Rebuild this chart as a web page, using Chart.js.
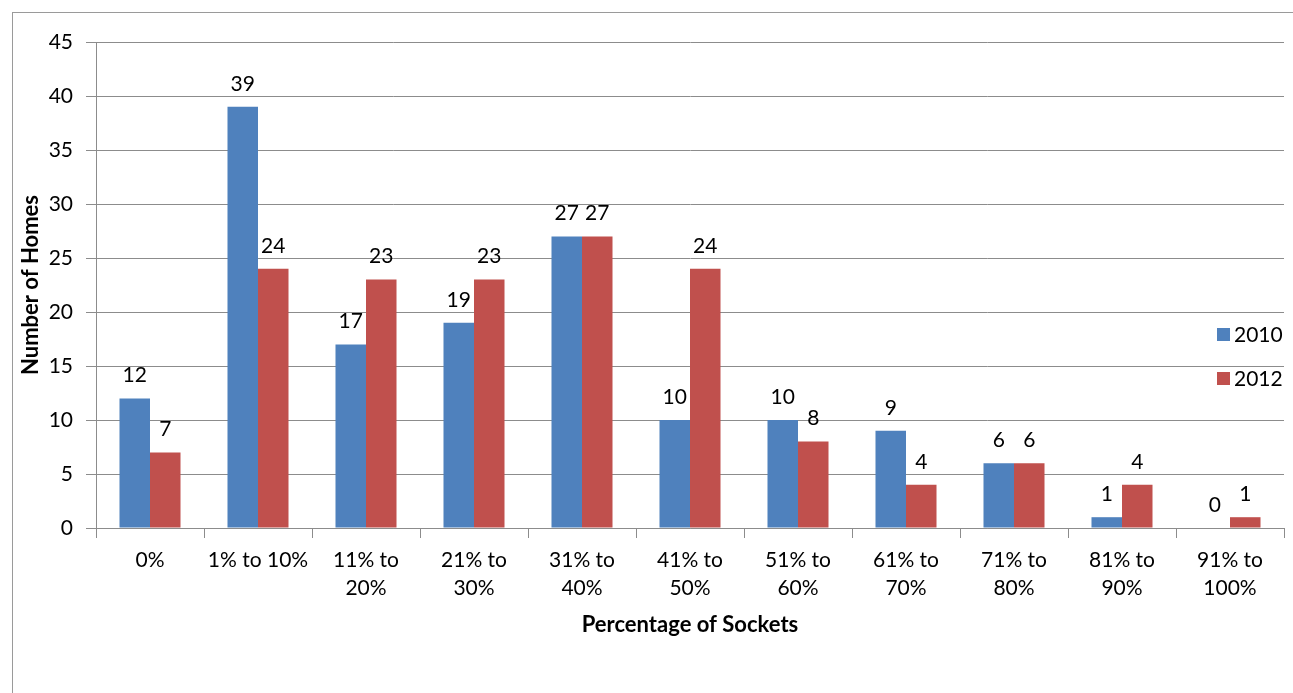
<!DOCTYPE html>
<html>
<head>
<meta charset="utf-8">
<title>Number of Homes by Percentage of Sockets</title>
<script src="https://cdn.jsdelivr.net/npm/chart.js@4.4.1/dist/chart.umd.min.js"></script>
<style>
  html, body { margin: 0; padding: 0; background: #ffffff; }
  #wrap { width: 1293px; height: 693px; position: relative; }
  canvas { display: block; }
</style>
</head>
<body>
<div id="wrap"><canvas id="chart" width="1293" height="693"></canvas></div>
<script>
// Socket-share buckets along the x axis
const categories = [
  '0%',
  '1% to 10%',
  ['11% to', '20%'],
  ['21% to', '30%'],
  ['31% to', '40%'],
  ['41% to', '50%'],
  ['51% to', '60%'],
  ['61% to', '70%'],
  ['71% to', '80%'],
  ['81% to', '90%'],
  ['91% to', '100%']
];

// Number of homes in each bucket, per survey year
const homes2010 = [12, 39, 17, 19, 27, 10, 10, 9, 6, 1, 0];
const homes2012 = [7, 24, 23, 23, 27, 24, 8, 4, 6, 4, 1];

const seriesNames = ['2010', '2012'];
const seriesColors = ['#4F81BD', '#C0504D'];

// Value axis range
const yMin = 0;
const yMax = 45;
const yStep = 5;

const xTitle = 'Percentage of Sockets';
const yTitle = 'Number of Homes';

const FONT = 'Lato, "Open Sans", "Liberation Sans", sans-serif';
const TEXT_SIZE = 21;
const TITLE_SIZE = 22;

// Thin frame around the whole chart
const framePlugin = {
  id: 'frame',
  beforeDraw(chart) {
    const ctx = chart.ctx;
    ctx.save();
    ctx.fillStyle = '#ffffff';
    ctx.fillRect(0, 0, chart.width, chart.height);
    ctx.strokeStyle = '#9a9a9a';
    ctx.lineWidth = 1;
    ctx.strokeRect(12.5, 12.5, chart.width + 10, chart.height - 12);
    ctx.restore();
  }
};

// Value printed above every bar
const valueLabelPlugin = {
  id: 'valueLabels',
  afterDatasetsDraw(chart) {
    const ctx = chart.ctx;
    ctx.save();
    ctx.font = TEXT_SIZE + 'px ' + FONT;
    ctx.fillStyle = '#000000';
    ctx.textAlign = 'center';
    ctx.textBaseline = 'middle';
    chart.data.datasets.forEach((ds, i) => {
      const meta = chart.getDatasetMeta(i);
      meta.data.forEach((bar, j) => {
        ctx.fillText(String(ds.data[j]), bar.x, bar.y - 23);
      });
    });
    ctx.restore();
  }
};

// Axis titles and the legend on the right
const annotationsPlugin = {
  id: 'annotations',
  afterDraw(chart) {
    const ctx = chart.ctx;
    const area = chart.chartArea;
    ctx.save();
    ctx.fillStyle = '#000000';
    ctx.font = 'bold ' + TITLE_SIZE + 'px ' + FONT;
    ctx.textAlign = 'center';
    ctx.textBaseline = 'middle';
    ctx.fillText(xTitle, (area.left + area.right) / 2, 625);

    ctx.save();
    ctx.translate(31, (area.top + area.bottom) / 2);
    ctx.rotate(-Math.PI / 2);
    ctx.fillText(yTitle, 0, 0);
    ctx.restore();

    // legend entries
    ctx.font = TEXT_SIZE + 'px ' + FONT;
    ctx.textAlign = 'left';
    const legendX = 1217;
    const legendY = [334, 378];
    seriesNames.forEach((name, i) => {
      ctx.fillStyle = seriesColors[i];
      ctx.fillRect(legendX, legendY[i] - 6, 13, 13);
      ctx.fillStyle = '#000000';
      ctx.fillText(name, legendX + 17, legendY[i] + 1);
    });
    ctx.restore();
  }
};

function draw() {
  Chart.defaults.font.family = FONT;
  Chart.defaults.color = '#000000';

  new Chart(document.getElementById('chart'), {
    type: 'bar',
    data: {
      labels: categories,
      datasets: [
        {
          label: seriesNames[0],
          data: homes2010,
          backgroundColor: seriesColors[0],
          borderWidth: 0,
          categoryPercentage: 0.565,
          barPercentage: 1.0
        },
        {
          label: seriesNames[1],
          data: homes2012,
          backgroundColor: seriesColors[1],
          borderWidth: 0,
          categoryPercentage: 0.565,
          barPercentage: 1.0
        }
      ]
    },
    options: {
      responsive: false,
      animation: false,
      devicePixelRatio: 1,
      layout: { padding: { left: 0, top: 42, right: 9, bottom: 0 } },
      plugins: {
        legend: { display: false },
        tooltip: { enabled: false },
        title: { display: false }
      },
      scales: {
        x: {
          offset: true,
          grid: {
            display: true,
            offset: true,
            drawOnChartArea: false,
            drawTicks: true,
            tickLength: 10,
            color: '#8c8c8c',
            lineWidth: 1
          },
          border: { display: true, color: '#8c8c8c', width: 1 },
          ticks: {
            font: { size: TEXT_SIZE, family: FONT, lineHeight: 1.33 },
            color: '#000000',
            padding: 8,
            maxRotation: 0,
            minRotation: 0,
            autoSkip: false
          },
          afterFit(scale) { scale.height = 693 - 528; }
        },
        y: {
          min: yMin,
          max: yMax,
          grid: {
            color: '#8c8c8c',
            lineWidth: 1,
            drawTicks: true,
            tickLength: 10
          },
          border: { display: true, color: '#8c8c8c', width: 1 },
          ticks: {
            stepSize: yStep,
            font: { size: TEXT_SIZE, family: FONT },
            color: '#000000',
            padding: 13
          },
          afterFit(scale) { scale.width = 96; }
        }
      }
    },
    plugins: [framePlugin, valueLabelPlugin, annotationsPlugin]
  });
}

if (document.fonts && document.fonts.load) {
  Promise.all([
    document.fonts.load(TEXT_SIZE + 'px Lato'),
    document.fonts.load('bold ' + TITLE_SIZE + 'px Lato')
  ]).then(draw, draw);
} else {
  draw();
}
</script>
</body>
</html>
